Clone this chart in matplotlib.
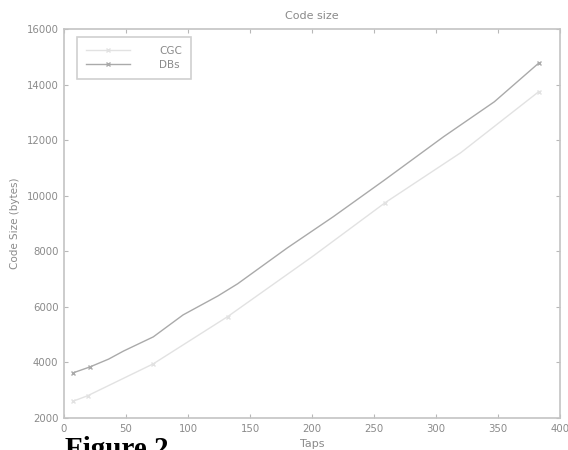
import matplotlib
matplotlib.use("Agg")
import matplotlib.pyplot as plt

# taps vs code size
cgc_taps = [7, 19, 72, 132, 200, 259, 320, 383]
cgc_size = [2600, 2800, 3950, 5650, 7800, 9750, 11550, 13750]
cgc_marks = [0, 1, 2, 3, 5, 7]

db_taps = [7, 21, 36, 48, 72, 96, 124, 140, 180, 217, 258, 306, 347, 383]
db_size = [3620, 3840, 4120, 4410, 4920, 5710, 6390, 6830, 8120, 9240, 10550, 12120, 13380, 14780]
db_marks = [0, 1, 13]

x_ticks = [0, 50, 100, 150, 200, 250, 300, 350, 400]
y_ticks = [2000, 4000, 6000, 8000, 10000, 12000, 14000, 16000]

fig = plt.figure(figsize=(5.68, 4.5), dpi=100)
ax = fig.add_axes([0.1127, 0.0711, 0.8733, 0.8645])

ax.plot(cgc_taps, cgc_size, color='#e2e2e2', linewidth=1.0, marker='x',
        markersize=3, markevery=cgc_marks, label='CGC')
ax.plot(db_taps, db_size, color='#aaaaaa', linewidth=1.0, marker='x',
        markersize=3, markevery=db_marks, label='DBs')

ax.set_xlim(0, 400)
ax.set_ylim(2000, 16000)
ax.set_xticks(x_ticks)
ax.set_yticks(y_ticks)
ax.tick_params(direction='in', top=True, right=True, length=3, width=0.8,
               colors='#b8b8b8', labelcolor='#8a8a8a', labelsize=7.3, pad=4)
for s in ax.spines.values():
    s.set_color('#c4c4c4')
    s.set_linewidth(1.2)

ax.set_title('Code size', fontsize=8, color='#8a8a8a', pad=7)
ax.set_xlabel('Taps', fontsize=8, color='#8a8a8a', labelpad=4)
ax.set_ylabel('Code Size (bytes)', fontsize=7.5, color='#8a8a8a', labelpad=5)

leg = ax.legend(loc='upper left', fontsize=7.5, frameon=True, fancybox=False,
                handlelength=4.2, borderpad=0.9, labelspacing=0.35,
                handletextpad=2.8, borderaxespad=0,
                bbox_to_anchor=(0.026, 0.98))
leg.get_frame().set_edgecolor('#c4c4c4')
leg.get_frame().set_linewidth(1.2)
for t in leg.get_texts():
    t.set_color('#8a8a8a')

fig.text(0.114, -0.016, 'Figure 2', fontsize=21, fontweight='bold',
         family='Liberation Serif', color='black', va='baseline')

fig.savefig('out.png', dpi=100)
